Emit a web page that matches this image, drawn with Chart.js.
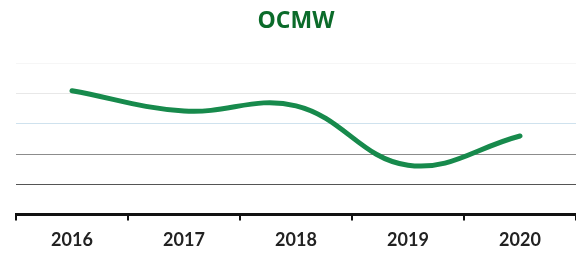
<!DOCTYPE html>
<html lang="nl">

<head>
    <meta charset="UTF-8">
    <title>OCMW</title>
    <style>
        html, body {
            margin: 0;
            padding: 0;
            background: #ffffff;
        }

        .chart-box {
            width: 576px;
            height: 254px;
        }
    </style>
</head>

<body>
    <div class="chart-box">
        <canvas id="ocmwChart"></canvas>
    </div>

    <script src="https://cdn.jsdelivr.net/npm/chart.js"></script>
    <script>
        // Data
        const years = ["2016", "2017", "2018", "2019", "2020"];
        const ocmwValues = [4.1, 3.43, 3.6, 1.63, 2.6];

        // Gridline colours per y value (scan looks faded towards the top)
        const gridColours = ["transparent", "#555555", "#8c8c8c", "#cfe2ee", "#e8e8e8", "#f6f6f6"];

        const ctx = document.getElementById("ocmwChart").getContext("2d");

        const chart = new Chart(ctx, {
            type: "line",
            data: {
                labels: years,
                datasets: [{
                    label: "OCMW",
                    data: ocmwValues,
                    borderColor: "#178a4c",
                    borderWidth: 5,
                    borderCapStyle: "round",
                    pointRadius: 0,
                    fill: false,
                    tension: 0.4,
                }],
            },
            options: {
                responsive: true,
                maintainAspectRatio: false,
                animation: false,
                layout: {
                    padding: { left: 16, right: 0, top: 0, bottom: -6 },
                },
                plugins: {
                    legend: { display: false },
                    tooltip: { enabled: false },
                    title: {
                        display: true,
                        text: "OCMW",
                        color: "#0b6b2a",
                        font: { family: "'Open Sans', sans-serif", size: 23, weight: "bold" },
                        padding: { top: 8, bottom: 28 },
                    },
                },
                scales: {
                    x: {
                        offset: true,
                        border: { display: true, color: "#111111", width: 3 },
                        grid: {
                            offset: true,
                            drawOnChartArea: false,
                            drawTicks: true,
                            tickLength: 6,
                            color: "#111111",
                            lineWidth: 2,
                        },
                        ticks: {
                            color: "#222222",
                            padding: 9,
                            font: { family: "Lato, sans-serif", size: 18, weight: "bold" },
                        },
                    },
                    y: {
                        min: 0,
                        max: 5,
                        border: { display: false },
                        grid: {
                            drawTicks: false,
                            lineWidth: 1,
                            color: (c) => gridColours[c.index] || "#eeeeee",
                        },
                        ticks: { display: false, stepSize: 1 },
                    },
                },
            },
        });
    </script>
</body>

</html>
